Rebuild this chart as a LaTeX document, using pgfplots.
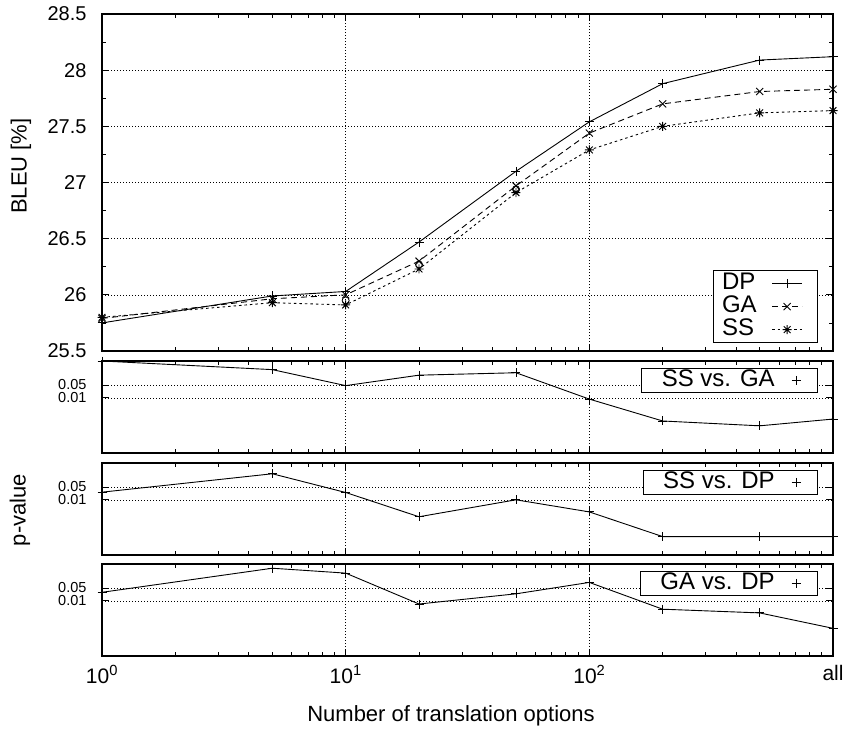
\documentclass[border=0pt]{standalone}
\usepackage{fontspec}
\setmainfont{Liberation Sans}
\usepackage{pgfplots}
\pgfplotsset{compat=1.18}
\pgfdeclareplotmark{star8}{%
  \pgfpathmoveto{\pgfqpoint{-\pgfplotmarksize}{0pt}}\pgfpathlineto{\pgfqpoint{\pgfplotmarksize}{0pt}}%
  \pgfpathmoveto{\pgfqpoint{0pt}{-\pgfplotmarksize}}\pgfpathlineto{\pgfqpoint{0pt}{\pgfplotmarksize}}%
  \pgfpathmoveto{\pgfqpoint{-.75\pgfplotmarksize}{-.75\pgfplotmarksize}}\pgfpathlineto{\pgfqpoint{.75\pgfplotmarksize}{.75\pgfplotmarksize}}%
  \pgfpathmoveto{\pgfqpoint{-.75\pgfplotmarksize}{.75\pgfplotmarksize}}\pgfpathlineto{\pgfqpoint{.75\pgfplotmarksize}{-.75\pgfplotmarksize}}%
  \pgfusepathqstroke}
\pgfplotsset{
  toplegimg/.style={legend image code/.code={\path (0pt,0pt) (51pt,0pt); \draw[mark repeat=2,mark phase=2,##1] plot coordinates {(12pt,0pt) (27pt,0pt) (42pt,0pt)};}},
  pvlegimg/.style={legend image code/.code={\path (0pt,0pt) (21pt,0pt); \draw[##1] plot coordinates {(18pt,0pt)};}},
}
\begin{document}
\begin{tikzpicture}
\path[use as bounding box] (0pt,0pt) rectangle (845pt,-731pt);
% top panel
\begin{axis}[at={(102pt,-14pt)}, anchor=north west,
  scale only axis, width=731pt, height=337pt,
  xmode=log, xmin=1, xmax=1000,
  xtick={1,10,100,1000}, xticklabels={},
  minor xtick={2,3,4,5,6,7,8,9,20,30,40,50,60,70,80,90,200,300,400,500,600,700,800,900},
  tick align=inside, xtick pos=both, ytick pos=both,
  major tick length=7pt, minor tick length=4pt,
  axis line style={line width=1.3pt},
  tick style={black, line width=0.8pt},
  grid style={black, line width=0.6pt, dash pattern=on 0.8pt off 2.2pt},
  xmajorgrids, ymajorgrids,
  ymin=25.5, ymax=28.5,
  ytick={25.5,26,26.5,27,27.5,28,28.5},
  minor ytick={25.75,26.25,26.75,27.25,27.75,28.25},
  yticklabel style={font=\fontsize{20}{22}\selectfont, xshift=-12pt, /pgf/number format/assume math mode=true},
  toplegimg,
  legend plot pos=right,
  legend style={at={(1,0)}, anchor=south east, xshift=-15pt, yshift=8pt,
    draw=black, line width=0.8pt, font=\fontsize{24}{24}\selectfont,
    inner xsep=6pt, inner ysep=1.5pt, row sep=0pt,
    nodes={inner ysep=0.5pt, inner xsep=3pt, text height=17pt, text depth=5pt}},
  legend cell align=left,
]
\addplot[black, line width=0.9pt, mark=+, mark size=4.5pt, mark options={solid}] coordinates {
 (1,25.75) (5,25.99) (10,26.03) (20,26.47) (50,27.10) (100,27.54) (200,27.88) (500,28.09) (1000,28.12)};
\addlegendentry{DP}
\addplot[black, line width=0.9pt, dash pattern=on 6pt off 4pt, mark=x, mark size=5pt, mark options={solid}] coordinates {
 (1,25.79) (5,25.965) (10,26.00) (20,26.30) (50,26.97) (100,27.44) (200,27.70) (500,27.81) (1000,27.83)};
\addlegendentry{GA}
\addplot[black, line width=0.9pt, dash pattern=on 2.5pt off 3pt, mark=star8, mark size=4.5pt, mark options={solid}] coordinates {
 (1,25.80) (5,25.93) (10,25.91) (20,26.23) (50,26.91) (100,27.29) (200,27.50) (500,27.62) (1000,27.64)};
\addlegendentry{SS}
\addplot[black, line width=0.8pt, only marks, mark=o, mark size=3.5pt, forget plot] coordinates {
 (10,25.95) (20,26.27) (50,26.94)};
\end{axis}
% SS vs GA
\begin{axis}[at={(102pt,-361pt)}, anchor=north west,
  scale only axis, width=731pt, height=92pt,
  xmode=log, xmin=1, xmax=1000,
  xtick={1,10,100,1000}, xticklabels={},
  minor xtick={2,3,4,5,6,7,8,9,20,30,40,50,60,70,80,90,200,300,400,500,600,700,800,900},
  tick align=inside, xtick pos=both, ytick pos=both,
  major tick length=7pt, minor tick length=4pt,
  axis line style={line width=1.3pt},
  tick style={black, line width=0.8pt},
  grid style={black, line width=0.6pt, dash pattern=on 0.8pt off 2.2pt},
  xmajorgrids, ymajorgrids,
  ymode=log, ymin=1e-5, ymax=1,
  ytick={0.01,0.05}, yticklabels={0.01,0.05}, minor y tick num=0,
  yticklabel style={font=\fontsize{14.5}{15}\selectfont, xshift=-12pt, inner ysep=0pt, text height=10pt, text depth=0pt},
  pvlegimg,
  legend plot pos=right,
  legend style={at={(1,1)}, anchor=north east, xshift=-15pt, yshift=-7pt,
    draw=black, line width=0.8pt, font=\fontsize{24}{24}\selectfont,
    inner xsep=17pt, inner ysep=1pt,
    nodes={inner ysep=0.5pt, inner xsep=3pt, text height=17pt, text depth=4pt}},
]
\addplot[black, line width=0.9pt, mark=+, mark size=4.5pt, forget plot] coordinates {
 (1,1) (5,0.34) (10,0.046) (20,0.17) (50,0.23) (100,0.0085) (200,0.00055) (500,0.0003) (1000,0.0007)};
\addlegendimage{black, only marks, mark=+, mark size=4.5pt}
\addlegendentry{SS vs. GA}
\end{axis}
% SS vs DP
\begin{axis}[at={(102pt,-463pt)}, anchor=north west,
  scale only axis, width=731pt, height=92pt,
  xmode=log, xmin=1, xmax=1000,
  xtick={1,10,100,1000}, xticklabels={},
  minor xtick={2,3,4,5,6,7,8,9,20,30,40,50,60,70,80,90,200,300,400,500,600,700,800,900},
  tick align=inside, xtick pos=both, ytick pos=both,
  major tick length=7pt, minor tick length=4pt,
  axis line style={line width=1.3pt},
  tick style={black, line width=0.8pt},
  grid style={black, line width=0.6pt, dash pattern=on 0.8pt off 2.2pt},
  xmajorgrids, ymajorgrids,
  ymode=log, ymin=1e-5, ymax=1,
  ytick={0.01,0.05}, yticklabels={0.01,0.05}, minor y tick num=0,
  yticklabel style={font=\fontsize{14.5}{15}\selectfont, xshift=-12pt, inner ysep=0pt, text height=10pt, text depth=0pt},
  pvlegimg,
  legend plot pos=right,
  legend style={at={(1,1)}, anchor=north east, xshift=-15pt, yshift=-7pt,
    draw=black, line width=0.8pt, font=\fontsize{24}{24}\selectfont,
    inner xsep=17pt, inner ysep=1pt,
    nodes={inner ysep=0.5pt, inner xsep=3pt, text height=17pt, text depth=4pt}},
]
\addplot[black, line width=0.9pt, mark=+, mark size=4.5pt, forget plot] coordinates {
 (1,0.026) (5,0.26) (10,0.025) (20,0.0012) (50,0.01) (100,0.0022) (200,0.0001) (500,0.0001) (1000,0.0001)};
\addlegendimage{black, only marks, mark=+, mark size=4.5pt}
\addlegendentry{SS vs. DP}
\end{axis}
% GA vs DP
\begin{axis}[at={(102pt,-564pt)}, anchor=north west,
  scale only axis, width=731pt, height=92pt,
  xmode=log, xmin=1, xmax=1000,
  xtick={1,10,100,1000},
  xticklabels={10\textsuperscript{0},10\textsuperscript{1},10\textsuperscript{2},all},
  xticklabel style={font=\fontsize{21}{22}\selectfont, yshift=-6pt},
  minor xtick={2,3,4,5,6,7,8,9,20,30,40,50,60,70,80,90,200,300,400,500,600,700,800,900},
  tick align=inside, xtick pos=both, ytick pos=both,
  major tick length=7pt, minor tick length=4pt,
  axis line style={line width=1.3pt},
  tick style={black, line width=0.8pt},
  grid style={black, line width=0.6pt, dash pattern=on 0.8pt off 2.2pt},
  xmajorgrids, ymajorgrids,
  ymode=log, ymin=1e-5, ymax=1,
  ytick={0.01,0.05}, yticklabels={0.01,0.05}, minor y tick num=0,
  yticklabel style={font=\fontsize{14.5}{15}\selectfont, xshift=-12pt, inner ysep=0pt, text height=10pt, text depth=0pt},
  pvlegimg,
  legend plot pos=right,
  legend style={at={(1,1)}, anchor=north east, xshift=-15pt, yshift=-7pt,
    draw=black, line width=0.8pt, font=\fontsize{24}{24}\selectfont,
    inner xsep=17pt, inner ysep=1pt,
    nodes={inner ysep=0.5pt, inner xsep=3pt, text height=17pt, text depth=4pt}},
]
\addplot[black, line width=0.9pt, mark=+, mark size=4.5pt, forget plot] coordinates {
 (1,0.029) (5,0.59) (10,0.32) (20,0.0067) (50,0.024) (100,0.1) (200,0.0035) (500,0.0022) (1000,0.00032)};
\addlegendimage{black, only marks, mark=+, mark size=4.5pt}
\addlegendentry{GA vs. DP}
\end{axis}
\node[rotate=90, font=\fontsize{22}{24}\selectfont] at (21pt,-166pt) {BLEU [\%]};
\node[rotate=90, font=\fontsize{22}{24}\selectfont] at (20pt,-510pt) {p-value};
\node[font=\fontsize{22}{24}\selectfont] at (451pt,-716pt) {Number of translation options};
\end{tikzpicture}
\end{document}
